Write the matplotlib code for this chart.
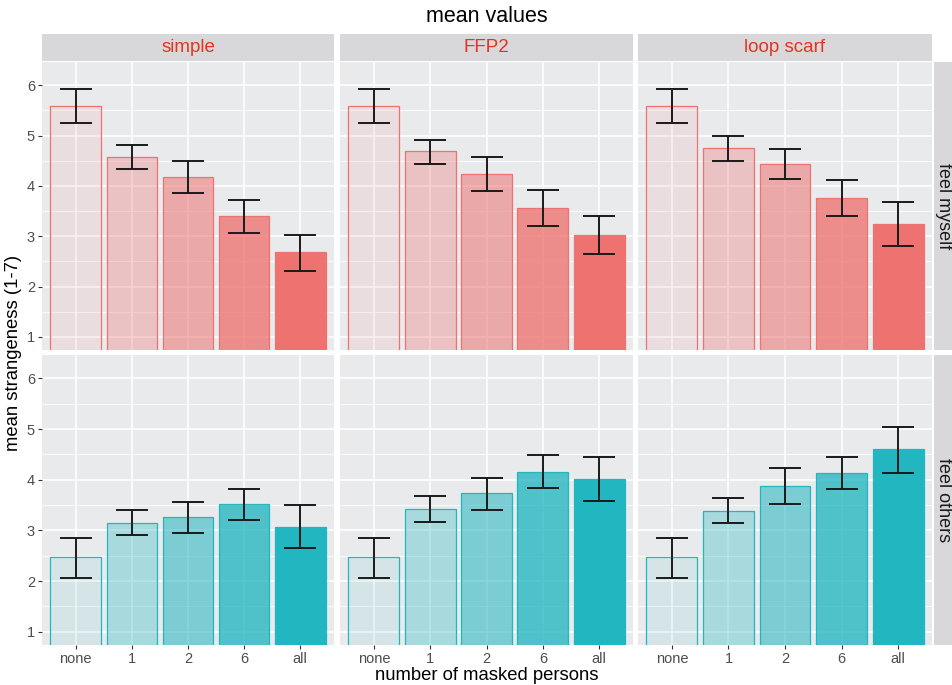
import matplotlib
matplotlib.use("Agg")
import matplotlib.pyplot as plt
import numpy as np

plt.rcParams['font.family'] = ['Liberation Sans', 'DejaVu Sans']

# facet labels
conditions = ["simple", "FFP2", "loop scarf"]
row_labels = ["feel myself", "feel others"]
levels = ["none", "1", "2", "6", "all"]

# feel myself: mean and error bar limits, one list per condition
myself_mean = [[5.59, 4.58, 4.17, 3.40, 2.68],
               [5.59, 4.69, 4.23, 3.56, 3.03],
               [5.59, 4.75, 4.44, 3.76, 3.24]]
myself_lo = [[5.24, 4.34, 3.85, 3.06, 2.31],
             [5.24, 4.44, 3.89, 3.20, 2.64],
             [5.24, 4.50, 4.13, 3.40, 2.81]]
myself_hi = [[5.93, 4.81, 4.49, 3.71, 3.03],
             [5.93, 4.92, 4.57, 3.92, 3.41],
             [5.93, 4.99, 4.74, 4.11, 3.67]]

# feel others
others_mean = [[2.47, 3.15, 3.26, 3.52, 3.07],
               [2.47, 3.42, 3.73, 4.16, 4.02],
               [2.47, 3.39, 3.88, 4.14, 4.60]]
others_lo = [[2.07, 2.90, 2.95, 3.21, 2.65],
             [2.07, 3.17, 3.40, 3.83, 3.58],
             [2.07, 3.15, 3.52, 3.82, 4.14]]
others_hi = [[2.85, 3.40, 3.57, 3.81, 3.50],
             [2.85, 3.67, 4.04, 4.49, 4.44],
             [2.85, 3.64, 4.23, 4.45, 5.04]]

row_colors = ["#EE7270", "#22B6C0"]
alphas = [0.1, 0.325, 0.55, 0.775, 1.0]

W, H = 952, 685
fig = plt.figure(figsize=(W / 100, H / 100), dpi=100)

def px_axes(x0, y0, x1, y1, **kw):
    # pixel box (top-left origin) -> figure axes
    return fig.add_axes([x0 / W, 1 - y1 / H, (x1 - x0) / W, (y1 - y0) / H], **kw)

def strip(ax):
    ax.set_facecolor("#D8D8DA")
    ax.set_xticks([])
    ax.set_yticks([])
    for s in ax.spines.values():
        s.set_visible(False)

col_x = [(42, 334), (340, 633), (638, 932)]
row_y = [(62, 350), (355, 645)]

data = [(myself_mean, myself_lo, myself_hi), (others_mean, others_lo, others_hi)]
x = np.arange(1, len(levels) + 1)

for r, (means, los, his) in enumerate(data):
    for c in range(len(conditions)):
        ax = px_axes(col_x[c][0], row_y[r][0], col_x[c][1], row_y[r][1])
        ax.set_facecolor("#E9EAEC")
        ax.set_axisbelow(True)
        for s in ax.spines.values():
            s.set_visible(False)
        ax.set_xlim(0.4, 5.6)
        ax.set_ylim(0.74, 6.46)
        ax.set_yticks([1, 2, 3, 4, 5, 6])
        ax.set_yticks([1.5, 2.5, 3.5, 4.5, 5.5], minor=True)
        ax.set_xticks(x)
        ax.grid(which="major", color="white", lw=1.1)
        ax.grid(which="minor", axis="y", color="white", lw=0.55)
        ax.tick_params(which="minor", length=0)
        ax.tick_params(which="major", length=3, width=0.8, color="#333333",
                       labelsize=10.5, labelcolor="#4D4D4D", pad=2)

        for i in range(len(levels)):
            ax.bar(x[i], means[c][i], width=0.9, color=row_colors[r],
                   alpha=alphas[i], lw=0, zorder=2)
            ax.bar(x[i], means[c][i], width=0.9, facecolor="none",
                   edgecolor=row_colors[r], lw=0.9, zorder=2.1)
        m = np.array(means[c])
        err = [m - np.array(los[c]), np.array(his[c]) - m]
        ax.errorbar(x, m, yerr=err, fmt="none", ecolor="#1A1A1A",
                    elinewidth=1.4, capsize=11.5, capthick=1.4, zorder=3)

        if c == 0:
            ax.set_yticklabels([str(v) for v in range(1, 7)])
        else:
            ax.tick_params(axis="y", labelleft=False, length=0)
        if r == 1:
            ax.set_xticklabels(levels)
        else:
            ax.tick_params(axis="x", labelbottom=False, length=0)

        # top strips
        if r == 0:
            sax = px_axes(col_x[c][0], 34, col_x[c][1], 61)
            strip(sax)
            sax.text(0.5, 0.5, conditions[c], color="#E8321E", fontsize=13.5,
                     ha="center", va="center", transform=sax.transAxes)

    # right strips
    rax = px_axes(934, row_y[r][0], 952, row_y[r][1])
    strip(rax)
    fig.text(943.5 / W, 1 - (row_y[r][0] + row_y[r][1]) / 2 / H, row_labels[r],
             rotation=-90, fontsize=13, ha="center", va="center", color="#1A1A1A")

fig.text(487 / W, 1 - 16 / H, "mean values", fontsize=15.5, ha="center", va="center")
fig.text(487 / W, 1 - 675 / H, "number of masked persons", fontsize=13.3,
         ha="center", va="center")
fig.text(14 / W, 1 - 353 / H, "mean strangeness (1-7)", fontsize=13.3,
         rotation=90, ha="center", va="center")

fig.savefig("out.png", dpi=100)
